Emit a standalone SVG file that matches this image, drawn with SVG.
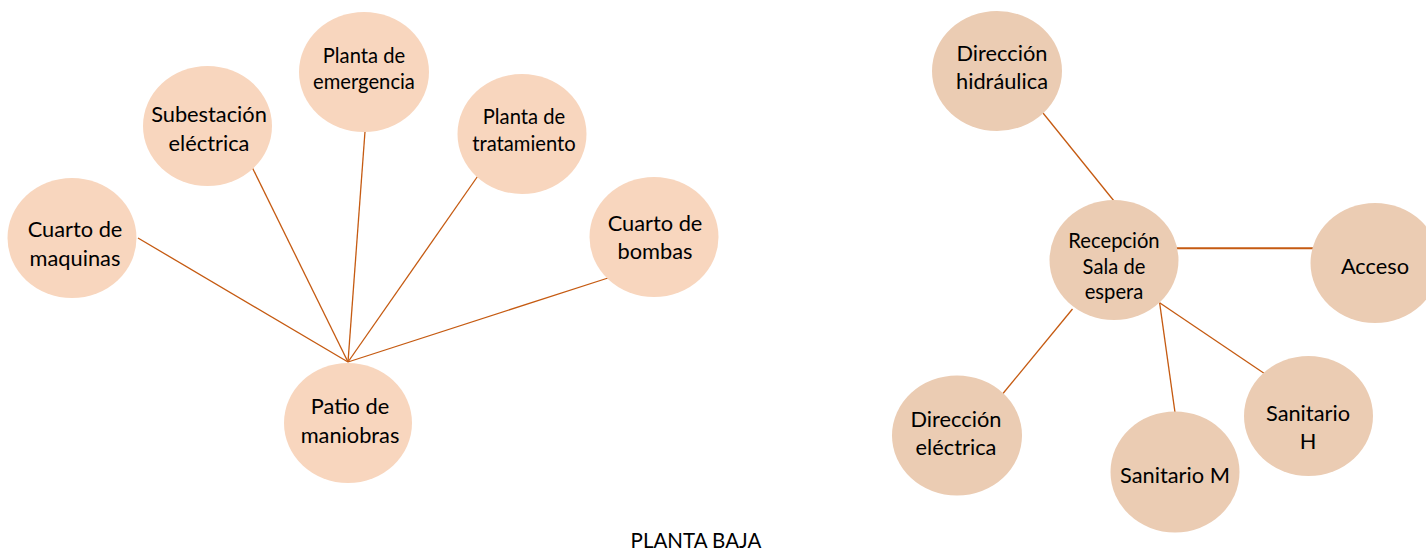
<svg xmlns="http://www.w3.org/2000/svg" width="1426" height="553" viewBox="0 0 1426 553">
<style>
.l{fill:#F8D6BE}
.r{fill:#EBCCB3}
text{font-family:Lato,"Liberation Sans",sans-serif;font-size:21.8px;fill:#000;text-anchor:middle}
.s{font-size:20.2px}
.c line{stroke:#C55A11;stroke-width:1.3;fill:none}
</style>
<rect width="1426" height="553" fill="#fff"/>
<g class="c" id="connectors">
<line x1="348" y1="362" x2="138" y2="238"/>
<line x1="348" y1="362" x2="252.5" y2="168"/>
<line x1="348" y1="362" x2="365" y2="131.5"/>
<line x1="348" y1="362" x2="477.5" y2="176.5"/>
<line x1="348" y1="362" x2="608" y2="278"/>
<line x1="1043" y1="113" x2="1114" y2="201"/>
<line x1="1175" y1="248.3" x2="1314.5" y2="248.3" style="stroke-width:2"/>
<line x1="1072.5" y1="309" x2="1003" y2="393.5"/>
<line x1="1159.6" y1="302.7" x2="1175" y2="412.3"/>
<line x1="1159.6" y1="302.7" x2="1264" y2="373.3"/>
</g>
<g id="cuarto-maquinas"><ellipse class="l" cx="72" cy="238" rx="64.5" ry="60"/><text x="75" y="237">Cuarto de</text><text x="75" y="265.5">maquinas</text></g>
<g id="subestacion"><ellipse class="l" cx="207.5" cy="126" rx="64.5" ry="60"/><text x="209" y="122">Subestación</text><text x="209" y="150.5">eléctrica</text></g>
<g id="planta-emergencia"><ellipse class="l" cx="364" cy="72" rx="65" ry="60"/><text class="s" x="364" y="63.3">Planta de</text><text class="s" x="364" y="88.5">emergencia</text></g>
<g id="planta-tratamiento"><ellipse class="l" cx="522" cy="134" rx="64.5" ry="60"/><text class="s" x="524" y="124.3">Planta de</text><text class="s" x="524" y="151">tratamiento</text></g>
<g id="cuarto-bombas"><ellipse class="l" cx="654" cy="237" rx="64.5" ry="60"/><text x="655" y="230.7">Cuarto de</text><text x="655" y="259.3">bombas</text></g>
<g id="patio-maniobras"><ellipse class="l" cx="348" cy="423" rx="64" ry="60"/><text x="350" y="414">Patio de</text><text x="350" y="442.7">maniobras</text></g>
<g id="direccion-hidraulica"><ellipse class="r" cx="997" cy="71" rx="65" ry="60"/><text x="1002" y="61">Dirección</text><text x="1002" y="89.3">hidráulica</text></g>
<g id="recepcion"><ellipse class="r" cx="1114" cy="260" rx="64.5" ry="60"/><text class="s" x="1114" y="248.3">Recepción</text><text class="s" x="1114" y="274.3">Sala de</text><text class="s" x="1114" y="298.8">espera</text></g>
<g id="acceso"><ellipse class="r" cx="1375" cy="263" rx="64.5" ry="60"/><text x="1375" y="274">Acceso</text></g>
<g id="direccion-electrica"><ellipse class="r" cx="957" cy="435.5" rx="65" ry="60"/><text x="956" y="426.7">Dirección</text><text x="956" y="455">eléctrica</text></g>
<g id="sanitario-m"><ellipse class="r" cx="1175" cy="472" rx="64.5" ry="60.5"/><text x="1175" y="483.3">Sanitario M</text></g>
<g id="sanitario-h"><ellipse class="r" cx="1308.5" cy="416" rx="64.5" ry="60"/><text x="1308" y="420.7">Sanitario</text><text x="1308" y="449.3">H</text></g>
<text x="696" y="548.3" style="font-size:20.5px">PLANTA BAJA</text>
</svg>
